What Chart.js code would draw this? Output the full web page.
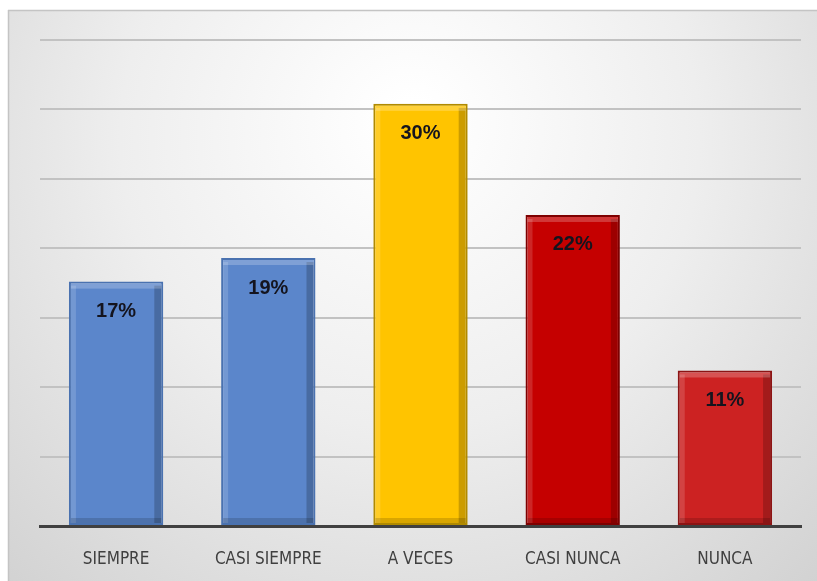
<!DOCTYPE html>
<html>
<head>
<meta charset="utf-8">
<script src="https://cdn.jsdelivr.net/npm/chart.js@4/dist/chart.umd.min.js"></script>
<style>
  html, body { margin: 0; padding: 0; background: #fff; }
  #wrap { width: 817px; height: 581px; position: relative; }
</style>
</head>
<body>
<div id="wrap"><canvas id="bar-graph"></canvas></div>
<script>
// DATA
const categories = ['SIEMPRE', 'CASI SIEMPRE', 'A VECES', 'CASI NUNCA', 'NUNCA'];
const percentages = [17.6, 19.3, 30.4, 22.4, 11.2];
const valueLabels = ['17%', '19%', '30%', '22%', '11%'];
const barColors = ['#5B86CB', '#5B86CB', '#FFC400', '#C50000', '#CC2222'];
const edgeColors = ['#4A72B0', '#4A72B0', '#B08A00', '#7E0000', '#8C1414'];

// gray frame behind the chart
const frameBg = {
    id: 'frameBg',
    beforeDraw(chart) {
        const ctx = chart.ctx;
        const w = chart.width, h = chart.height;
        const g = ctx.createRadialGradient(410, 120, 20, 410, 160, 620);
        g.addColorStop(0, '#ffffff');
        g.addColorStop(0.45, '#eeeeee');
        g.addColorStop(1, '#cfcfcf');
        ctx.save();
        ctx.fillStyle = g;
        ctx.fillRect(8, 10, w - 8, h - 10);
        ctx.strokeStyle = '#c4c4c4';
        ctx.lineWidth = 1.5;
        ctx.beginPath();
        ctx.moveTo(8, 10.5);
        ctx.lineTo(w, 10.5);
        ctx.moveTo(8.5, 10);
        ctx.lineTo(8.5, h);
        ctx.stroke();
        ctx.restore();
    }
};

// bevel look + value labels inside the bars
const barDeco = {
    id: 'barDeco',
    afterDatasetsDraw(chart) {
        const ctx = chart.ctx;
        const meta = chart.getDatasetMeta(0);
        ctx.save();
        meta.data.forEach((bar, i) => {
            const left = bar.x - bar.width / 2;
            const right = bar.x + bar.width / 2;
            const top = bar.y;
            const bottom = bar.base;
            // right side shade
            ctx.fillStyle = 'rgba(0,0,0,0.2)';
            ctx.fillRect(right - 9, top + 4, 7, bottom - top - 6);
            // left side highlight
            ctx.fillStyle = 'rgba(255,255,255,0.15)';
            ctx.fillRect(left + 2, top + 4, 5, bottom - top - 6);
            // top highlight
            ctx.fillStyle = 'rgba(255,255,255,0.22)';
            ctx.fillRect(left + 2, top + 2, right - left - 4, 5);
            // bottom shade
            ctx.fillStyle = 'rgba(0,0,0,0.15)';
            ctx.fillRect(left + 2, bottom - 7, right - left - 4, 5);

            ctx.fillStyle = '#14141e';
            ctx.font = 'bold 20px "Liberation Sans", Arial, sans-serif';
            ctx.textAlign = 'center';
            ctx.textBaseline = 'middle';
            ctx.fillText(valueLabels[i], bar.x, top + 30);
        });
        ctx.restore();
    }
};

const barChartData = {
    labels: categories,
    datasets: [{
        data: percentages,
        backgroundColor: barColors,
        borderColor: edgeColors,
        borderWidth: 2,
        borderSkipped: false,
        categoryPercentage: 1,
        barPercentage: 0.62
    }]
};

const config = {
    type: 'bar',
    data: barChartData,
    options: {
        responsive: true,
        maintainAspectRatio: false,
        animation: false,
        layout: {
            padding: { left: 40, top: 40, right: 16, bottom: 0 }
        },
        plugins: {
            legend: { display: false },
            tooltip: { enabled: false }
        },
        scales: {
            x: {
                grid: { display: false, drawTicks: false },
                border: { display: true, color: '#404040', width: 3 },
                ticks: {
                    color: '#404040',
                    padding: 23,
                    font: { family: '"Liberation Sans Narrow", "DejaVu Sans Condensed", sans-serif', size: 17 }
                },
                afterFit(scale) { scale.height = 55; }
            },
            y: {
                min: 0,
                max: 35,
                ticks: { display: false, stepSize: 5 },
                border: { display: false },
                grid: {
                    color: '#c2c2c2',
                    lineWidth: 2,
                    drawTicks: false
                },
                afterFit(scale) { scale.width = 0; }
            }
        }
    },
    plugins: [frameBg, barDeco]
};

const barGraph = new Chart(document.getElementById('bar-graph'), config);
</script>
</body>
</html>
